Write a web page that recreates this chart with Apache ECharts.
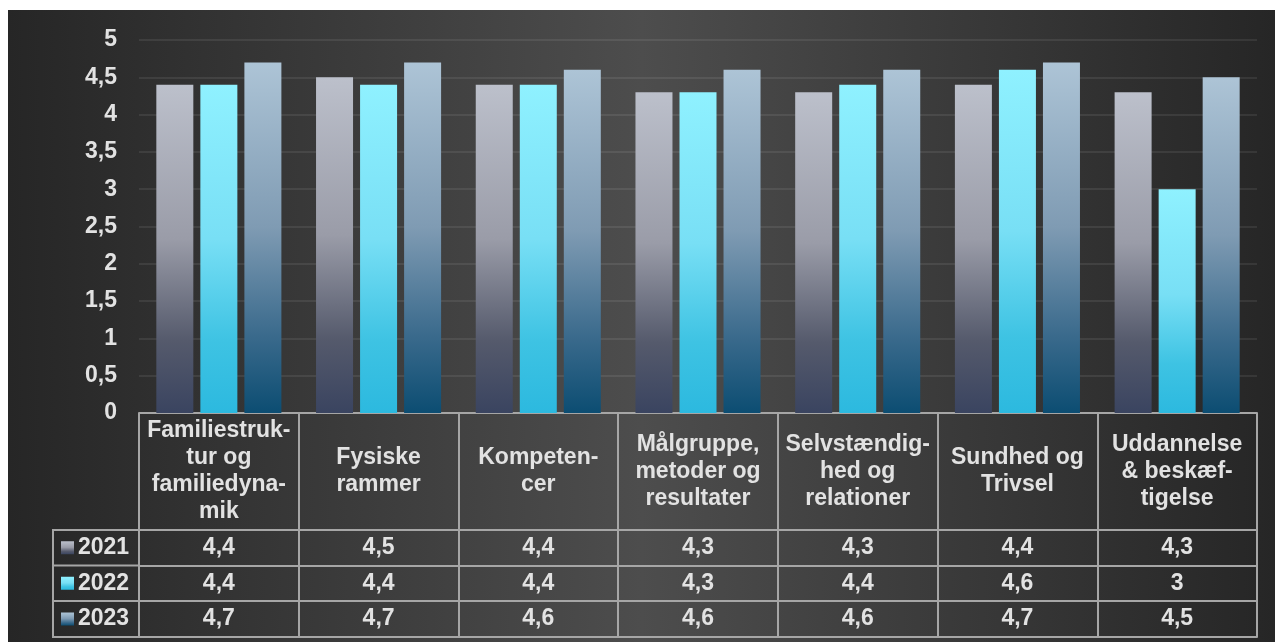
<!DOCTYPE html>
<html>
<head>
<meta charset="utf-8">
<style>
html,body{margin:0;padding:0;background:#ffffff;}
#chart{width:1275px;height:642px;}
</style>
<script src="https://cdn.jsdelivr.net/npm/echarts@6/dist/echarts.min.js"></script>
</head>
<body>
<div id="chart"></div>
<script>
const categories = [
  "Familiestruk-\ntur og\nfamiliedyna-\nmik",
  "Fysiske\nrammer",
  "Kompeten-\ncer",
  "Målgruppe,\nmetoder og\nresultater",
  "Selvstændig-\nhed og\nrelationer",
  "Sundhed og\nTrivsel",
  "Uddannelse\n& beskæf-\ntigelse"
];
const seriesNames = ["2021", "2022", "2023"];
const values2021 = [4.4, 4.5, 4.4, 4.3, 4.3, 4.4, 4.3];
const values2022 = [4.4, 4.4, 4.4, 4.3, 4.4, 4.6, 3];
const values2023 = [4.7, 4.7, 4.6, 4.6, 4.6, 4.7, 4.5];
const yTicks = [0, 0.5, 1, 1.5, 2, 2.5, 3, 3.5, 4, 4.5, 5];

const seriesValues = [values2021, values2022, values2023];
const fmt = v => String(v).replace('.', ',');

const TEXT = '#e2e2e2';
const LINE = '#a6a6a6';
const FONT = '"Liberation Sans", Arial, sans-serif';

const gradients = [
  [[0, '#bcc0cb'], [0.47, '#9a9ca8'], [0.78, '#555a6c'], [1, '#3a4460']],
  [[0, '#8ff1ff'], [0.47, '#78dff5'], [0.78, '#3ec3e3'], [1, '#2cb9df']],
  [[0, '#adc4d6'], [0.47, '#7f9bb3'], [0.78, '#3a6a8c'], [1, '#0c4d72']]
];
function grad(i) {
  return {
    type: 'linear', x: 0, y: 0, x2: 0, y2: 1,
    colorStops: gradients[i].map(s => ({offset: s[0], color: s[1]}))
  };
}

const gridLeft = 139, gridRight = 18, gridTop = 40, axisY = 413;
const rowLines = [530, 565.5, 601, 637];
const tableLeft = 53;

const xAxes = [{
  type: 'category', data: categories, position: 'bottom', gridIndex: 0,
  axisLine: {show: true, lineStyle: {color: LINE, width: 2}},
  axisTick: {show: true, interval: 0, length: rowLines[3] - axisY, lineStyle: {color: LINE, width: 2}},
  axisLabel: {
    interval: 0, color: TEXT, fontFamily: FONT, fontWeight: 'bold', fontSize: 23,
    lineHeight: 27, verticalAlign: 'middle', margin: (rowLines[0] - axisY) / 2
  },
  splitLine: {show: false}
}];
for (let r = 0; r < 4; r++) {
  const off = rowLines[r] - axisY;
  const vals = seriesValues[r];
  xAxes.push({
    type: 'category', data: categories, position: 'bottom', offset: off, gridIndex: 0,
    axisLine: {show: true, lineStyle: {color: LINE, width: 2}},
    axisTick: {show: false},
    axisLabel: {
      show: r < 3, interval: 0, color: TEXT, fontFamily: FONT, fontWeight: 'bold', fontSize: 23,
      verticalAlign: 'middle',
      margin: r < 3 ? (rowLines[r + 1] - rowLines[r]) / 2 : 0,
      formatter: (v, idx) => vals ? fmt(vals[idx]) : ''
    },
    splitLine: {show: false}
  });
}

const legends = seriesNames.map((n, i) => ({
  data: [n], orient: 'horizontal', left: 61,
  top: (rowLines[i] + rowLines[i + 1]) / 2 - 11.5,
  padding: 0, itemWidth: 13, itemHeight: 13, itemGap: 0, icon: 'rect',
  selectedMode: false,
  textStyle: {color: TEXT, fontFamily: FONT, fontWeight: 'bold', fontSize: 23, padding: [0, 0, 0, -1]}
}));

const tableGraphics = [
  {type: 'line', shape: {x1: tableLeft, y1: rowLines[0], x2: tableLeft, y2: rowLines[3]}, style: {stroke: LINE, lineWidth: 2}}
].concat(rowLines.map(y => ({
  type: 'line', shape: {x1: tableLeft - 1, y1: y, x2: gridLeft, y2: y}, style: {stroke: LINE, lineWidth: 2}
})));

const option = {
  animation: false,
  backgroundColor: 'transparent',
  graphic: [{
    type: 'rect', z: -100, silent: true,
    shape: {x: 8, y: 10, width: 1267, height: 632},
    style: {fill: {type: 'linear', x: 0, y: 0, x2: 1, y2: 0, global: false,
      colorStops: [{offset: 0, color: '#262626'}, {offset: 0.5, color: '#4d4d4d'}, {offset: 1, color: '#262626'}]}}
  }].concat(tableGraphics),
  legend: legends,
  grid: {left: gridLeft, right: gridRight, top: gridTop, bottom: 642 - axisY, containLabel: false},
  xAxis: xAxes,
  yAxis: {
    type: 'value', min: yTicks[0], max: yTicks[yTicks.length - 1], interval: 0.5,
    axisLine: {show: false}, axisTick: {show: false},
    axisLabel: {color: TEXT, fontFamily: FONT, fontWeight: 'bold', fontSize: 23, margin: 22, formatter: v => fmt(v)},
    splitLine: {show: true, lineStyle: {color: 'rgba(255,255,255,0.08)', width: 2}}
  },
  series: seriesNames.map((n, i) => ({
    name: n, type: 'bar', xAxisIndex: 0, data: seriesValues[i],
    barWidth: 37, barGap: '19%',
    itemStyle: {color: grad(i)}
  }))
};

const chart = echarts.init(document.getElementById('chart'), null, {renderer: 'canvas'});
chart.setOption(option);
</script>
</body>
</html>
